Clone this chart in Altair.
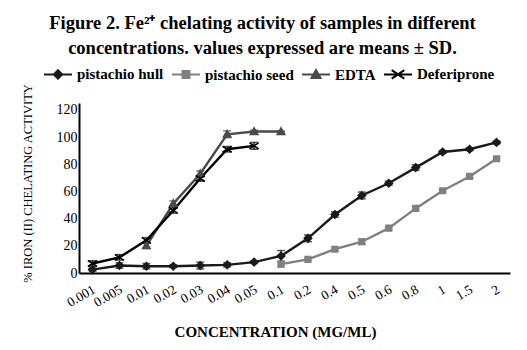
import altair as alt
import pandas as pd

categories = ["0.001", "0.005", "0.01", "0.02", "0.03", "0.04", "0.05", "0.1",
              "0.2", "0.4", "0.5", "0.6", "0.8", "1", "1.5", "2"]
y_ticks = [0, 20, 40, 60, 80, 100, 120]

series_names = ["pistachio hull", "pistachio seed", "EDTA", "Deferiprone"]
series_colors = ["#1a1a1a", "#808080", "#4a4a4a", "#000000"]

hull_conc = categories
hull_values = [2.5, 5.5, 5, 5, 5.5, 6, 8, 12.5, 25.5, 43, 57, 66, 77.5, 89, 91, 96]
hull_sd = [1, 2, 2, 1, 2.5, 1.5, 1, 4, 2.5, 2, 2.5, 1.5, 2, 1, 1, 1]

seed_conc = categories[7:]
seed_values = [6.5, 10, 17.5, 23, 33, 47.5, 60.5, 71, 84]
seed_sd = [2, 1, 1, 2, 1, 1.5, 1, 1, 1]

edta_conc = categories[2:8]
edta_values = [20, 51, 73, 102, 104, 104]
edta_sd = [2, 2, 2, 2.5, 1, 0.5]

def_conc = categories[:7]
def_values = [7, 11.5, 24, 46, 69.5, 91, 93.5]
def_sd = [2, 2, 2, 2, 2, 2, 2.5]

point_paths = [
    "M0,-0.8L0.8,0L0,0.8L-0.8,0Z",
    "M-0.6,-0.6H0.6V0.6H-0.6Z",
    "M0,-0.8L0.8,0.6H-0.8Z",
    "M-1,-0.65L1,0.65M-1,0.65L1,-0.65",
]
legend_paths = [
    "M-1,0H1M0,-0.3L0.3,0L0,0.3L-0.3,0Z",
    "M-1,0H1M-0.25,-0.25H0.25V0.25H-0.25Z",
    "M-1,0H1M0,-0.32L0.32,0.25H-0.32Z",
    "M-1,0H1M-0.45,-0.3L0.45,0.3M-0.45,0.3L0.45,-0.3",
]

rows = []
for name, concs, vals, sds in [
    (series_names[0], hull_conc, hull_values, hull_sd),
    (series_names[1], seed_conc, seed_values, seed_sd),
    (series_names[2], edta_conc, edta_values, edta_sd),
    (series_names[3], def_conc, def_values, def_sd),
]:
    for c, v, s in zip(concs, vals, sds):
        rows.append({"series": name, "conc": c, "value": v, "lo": v - s, "hi": v + s})
df = pd.DataFrame(rows)

FONT = "Liberation Serif"

x_axis = alt.Axis(
    labelAngle=330, labelAlign="right", labelBaseline="top", labelPadding=9,
    labelOffset=-2,
    labelFont=FONT, labelFontSize=13.5, labelColor="#000",
    ticks=False, domainColor="#000", domainWidth=2, grid=False,
    title="CONCENTRATION (MG/ML)", titleFont=FONT, titleFontSize=15,
    titleFontWeight="bold", titleColor="#000", titleX=196, titleY=58,
    titleBaseline="middle",
)
y_axis = alt.Axis(
    values=y_ticks, labelFont=FONT, labelFontSize=14, labelColor="#000",
    labelPadding=2, ticks=False, domainColor="#000", domainWidth=2, grid=False,
    title="% IRON (II) CHELATING ACTIVITY", titleFont=FONT, titleFontSize=12.5,
    titleFontWeight="normal", titleColor="#000", titleX=-45, titleY=80,
)

x_enc = alt.X("conc:O", sort=categories,
              scale=alt.Scale(type="point", domain=categories, padding=0.5),
              axis=x_axis)
y_scale = alt.Scale(domain=[0, 125], nice=False)

def col(ch, leg=None, rng=None):
    return ch("series:N",
              scale=alt.Scale(domain=series_names, range=rng or series_colors),
              legend=leg)

base = alt.Chart(df)

stems = base.mark_rule(strokeWidth=1.3).encode(
    x=x_enc, y=alt.Y("lo:Q", scale=y_scale, axis=y_axis), y2="hi:Q",
    color=col(alt.Color))
caps_lo = base.mark_tick(size=8, thickness=1.5).encode(
    x=x_enc, y=alt.Y("lo:Q", scale=y_scale, axis=y_axis), color=col(alt.Color))
caps_hi = base.mark_tick(size=8, thickness=1.5).encode(
    x=x_enc, y=alt.Y("hi:Q", scale=y_scale, axis=y_axis), color=col(alt.Color))

lines = base.mark_line(strokeWidth=2.4).encode(
    x=x_enc, y=alt.Y("value:Q", scale=y_scale, axis=y_axis),
    color=col(alt.Color), detail="series:N")

points = base.mark_point(filled=True, size=85, strokeWidth=1.6, opacity=1).encode(
    x=x_enc, y=alt.Y("value:Q", scale=y_scale, axis=y_axis),
    color=col(alt.Color), stroke=col(alt.Stroke),
    shape=alt.Shape("series:N", scale=alt.Scale(domain=series_names, range=point_paths),
                    legend=None))

leg = alt.Legend(orient="none", legendX=-36, legendY=-44, direction="horizontal",
                 title=None, labelFont=FONT, labelFontSize=15, labelFontWeight="bold",
                 labelColor="#000", symbolSize=784, symbolStrokeWidth=2,
                 columnPadding=4, labelOffset=4)
legend_layer = alt.Chart(df).transform_filter("false").mark_point(
    filled=True, size=784, strokeWidth=2, opacity=1).encode(
    color=col(alt.Color, leg), stroke=col(alt.Stroke, leg),
    shape=alt.Shape("series:N", scale=alt.Scale(domain=series_names, range=legend_paths),
                    legend=leg))

chart = alt.layer(stems, caps_lo, caps_hi, lines, points, legend_layer).resolve_scale(
    color="independent", stroke="independent", shape="independent"
).properties(
    width=431, height=170,
    padding={"left": 79, "top": 103, "right": 17, "bottom": 77},
    autosize=alt.AutoSizeParams(type="none"),
    background="white",
    title=alt.TitleParams(
        text=["Figure 2. Fe\u00b2\u207a chelating activity of samples in different",
              "concentrations. values expressed are means \u00b1 SD."],
        font=FONT, fontSize=18.5, fontWeight="bold", color="#000",
        anchor="middle", dx=-32, offset=2, lineHeight=25),
).configure(font=FONT).configure_view(stroke=None).configure_legend(
    labelFont=FONT, labelFontWeight="bold", labelFontSize=15, labelColor="#000"
)

chart.save("out.html", embed_options={"renderer": "svg", "actions": False})
